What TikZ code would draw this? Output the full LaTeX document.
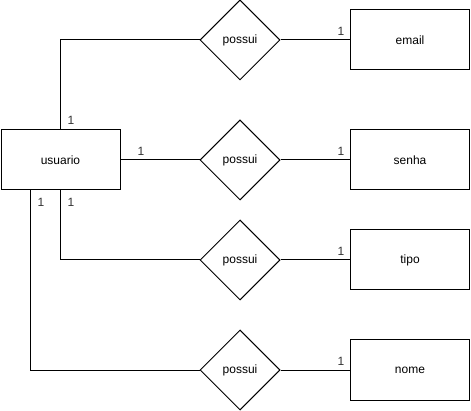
\documentclass[tikz,border=0pt]{standalone}
\usepackage{fontspec}
\setmainfont{Liberation Sans}
\usetikzlibrary{shapes.geometric}
\begin{document}
\begin{tikzpicture}[x=1pt,y=-1pt,
    entidade/.style={draw,line width=1pt,minimum width=119pt,minimum height=60pt,inner sep=0pt,font=\fontsize{12}{14}\selectfont},
    relacao/.style={draw,diamond,line width=1pt,minimum width=80pt,minimum height=80pt,inner sep=0pt,font=\fontsize{12}{14}\selectfont},
    card/.style={inner sep=0pt,font=\fontsize{12}{14}\selectfont,text=black!80},
    liga/.style={line width=1pt}]
    \useasboundingbox (0,0) rectangle (471,411);

    % entidades
    \node[entidade] (usuario) at (60.5,160) {usuario};
    \node[entidade] (email) at (410,40) {email};
    \node[entidade] (senha) at (410,160) {senha};
    \node[entidade] (tipo) at (410,260) {tipo};
    \node[entidade] (nome) at (410,370) {nome};

    % relacoes
    \node[relacao] (r1) at (240,40) {possui};
    \node[relacao] (r2) at (240,160) {possui};
    \node[relacao] (r3) at (240,260) {possui};
    \node[relacao] (r4) at (240,370) {possui};

    % ligacoes
    \draw[liga] (usuario.north) |- (r1.west);
    \draw[liga] (usuario.east) -- (r2.west);
    \draw[liga] (usuario.south) |- (r3.west);
    \draw[liga] ([xshift=-30pt]usuario.south) |- (r4.west);
    \draw[liga] (r1.east) -- (email.west);
    \draw[liga] (r2.east) -- (senha.west);
    \draw[liga] (r3.east) -- (tipo.west);
    \draw[liga] (r4.east) -- (nome.west);

    % cardinalidades
    \node[card] (u1) at (71,120) {1};
    \node[card] (u2) at (141,151) {1};
    \node[card] (u3) at (71,202) {1};
    \node[card] (u4) at (41,202) {1};
    \node[card] (e1) at (341,31) {1};
    \node[card] (s1) at (341,151) {1};
    \node[card] (t1) at (341,251) {1};
    \node[card] (n1) at (341,361) {1};
\end{tikzpicture}
\end{document}
